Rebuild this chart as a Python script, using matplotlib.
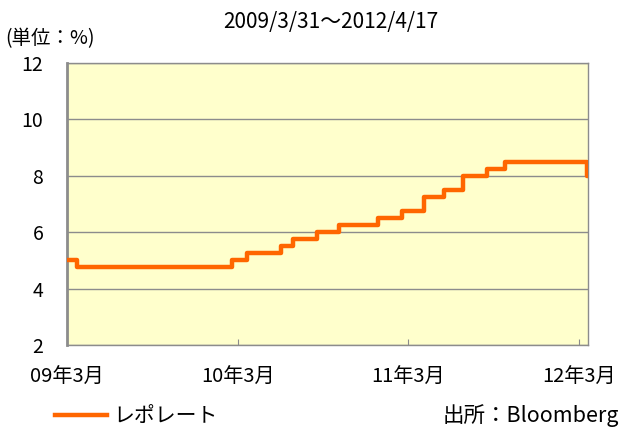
import matplotlib
matplotlib.use("Agg")
import matplotlib.pyplot as plt
import pandas as pd

plt.rcParams['font.family'] = ['Noto Sans CJK JP', 'DejaVu Sans']

# repo rate change dates and levels (%)
change_dates = ['2009-03-31', '2009-04-21', '2010-03-19', '2010-04-20', '2010-07-02',
                '2010-07-27', '2010-09-16', '2010-11-02', '2011-01-25', '2011-03-17',
                '2011-05-03', '2011-06-16', '2011-07-26', '2011-09-16', '2011-10-25',
                '2012-04-17', '2012-04-18']
repo_rate = [5.0, 4.75, 5.0, 5.25, 5.5, 5.75, 6.0, 6.25, 6.5, 6.75,
             7.25, 7.5, 8.0, 8.25, 8.5, 8.0, 8.0]

tick_dates = ['2009-03-31', '2010-03-31', '2011-03-31', '2012-03-31']
tick_labels = ['09年3月', '10年3月', '11年3月', '12年3月']

dates = pd.to_datetime(change_dates)
grey = '#8c8c8c'

fig = plt.figure(figsize=(6.2, 4.32), dpi=100)
ax = fig.add_axes([0.108, 0.2014, 0.84, 0.653])
ax.set_facecolor('#ffffcc')

line, = ax.step(dates, repo_rate, where='post', color='#ff6600', lw=3.2,
                label='レポレート', zorder=3)

ax.set_ylim(2, 12)
ax.set_yticks([2, 4, 6, 8, 10, 12])
ax.set_xlim(pd.Timestamp('2009-03-31'), pd.Timestamp('2012-04-18'))
ax.set_xticks(pd.to_datetime(tick_dates))
ax.set_xticklabels(tick_labels)
ax.yaxis.grid(True, color=grey, lw=1)
ax.set_axisbelow(True)

for side in ['top', 'right', 'bottom']:
    ax.spines[side].set_color(grey)
    ax.spines[side].set_linewidth(1)
ax.spines['left'].set_color(grey)
ax.spines['left'].set_linewidth(2)

ax.tick_params(axis='y', length=0, pad=17, labelsize=14)
ax.tick_params(axis='x', direction='in', length=4, color=grey, pad=16, labelsize=14.5)

fig.text(0.008, 0.91, '(単位：%)', fontsize=14, va='center', ha='left')
fig.text(0.534, 0.948, '2009/3/31～2012/4/17', fontsize=15, va='center', ha='center')
fig.text(0.998, 0.037, '出所：Bloomberg', fontsize=15.5, va='center', ha='right')

fig.legend(handles=[line], loc='center left', bbox_to_anchor=(0.058, 0.037),
           frameon=False, fontsize=15, handlelength=2.5, handletextpad=0.3)

plt.savefig('out.png', dpi=100)
